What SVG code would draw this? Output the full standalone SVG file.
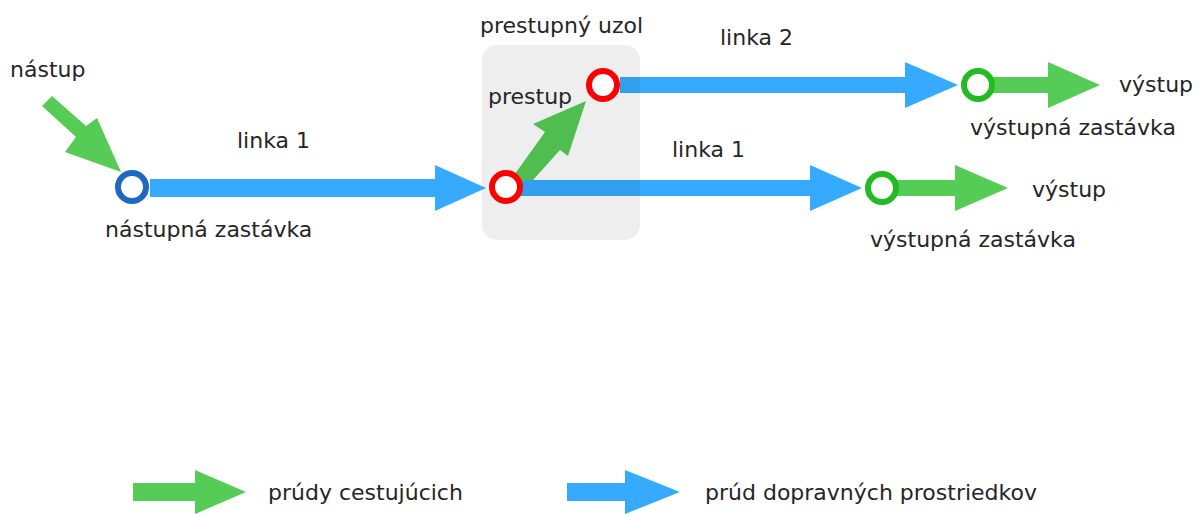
<svg xmlns="http://www.w3.org/2000/svg" width="1201" height="514" viewBox="0 0 1201 514">
<style>
text{font-family:"DejaVu Sans","Noto Sans",sans-serif;font-size:22px;fill:#262626}
.blue{fill:#36aaff}
.green{fill:#55cc55}
.node{fill:#fff;stroke-width:6}
</style>
<rect width="1201" height="514" fill="#fff"/>
<g id="connectors">
  <polygon class="green" points="42,106 52,96 86,126 97,118 121,172 65,152 76,137"/>
  <polygon class="blue" points="150,179 435,179 435,165 486,188 435,211 435,197 150,197"/>
  <polygon class="green" points="512,178 524,190 560,150 568,156 586,101 533,124 545,132"/>
  <polygon class="blue" points="620,77 905,77 905,62 958,85 905,108 905,93 620,93"/>
  <polygon class="blue" points="520,180 810,180 810,165 862,188 810,211 810,196 520,196"/>
  <polygon class="green" points="993,77 1048,77 1048,62 1100,85 1048,108 1048,93 993,93"/>
  <polygon class="green" points="897,180 955,180 955,165 1008,188 955,211 955,196 897,196"/>
</g>
<g id="transfer-hub">
  <rect x="482" y="45" width="158" height="195" rx="15" fill="#000" fill-opacity="0.065"/>
  <text x="480" y="33">prestupný uzol</text>
  <text x="488" y="104">prestup</text>
</g>
<g id="boarding-stop">
  <circle class="node" cx="132" cy="187" r="14" stroke="#1d68c0"/>
  <text x="10" y="77">nástup</text>
  <text x="105" y="237">nástupná zastávka</text>
</g>
<g id="transfer-in">
  <circle class="node" cx="506" cy="187" r="14" stroke="#ff0000"/>
</g>
<g id="transfer-out">
  <circle class="node" cx="603" cy="85" r="14" stroke="#ff0000"/>
</g>
<g id="exit-stop-2">
  <circle class="node" cx="978" cy="85" r="14" stroke="#22bb22"/>
  <text x="1119" y="92">výstup</text>
  <text x="970" y="135">výstupná zastávka</text>
</g>
<g id="exit-stop-1">
  <circle class="node" cx="882" cy="188" r="14" stroke="#22bb22"/>
  <text x="1032" y="197">výstup</text>
  <text x="870" y="247">výstupná zastávka</text>
</g>
<g id="line-labels">
  <text x="237" y="148">linka 1</text>
  <text x="720" y="45">linka 2</text>
  <text x="672" y="157">linka 1</text>
</g>
<g id="legend">
  <polygon class="green" points="133,483 195,483 195,470 246,492 195,514 195,501 133,501"/>
  <text x="268" y="500">prúdy cestujúcich</text>
  <polygon class="blue" points="567,483 625,483 625,470 680,492 625,514 625,501 567,501"/>
  <text x="705" y="500">prúd dopravných prostriedkov</text>
</g>
</svg>
